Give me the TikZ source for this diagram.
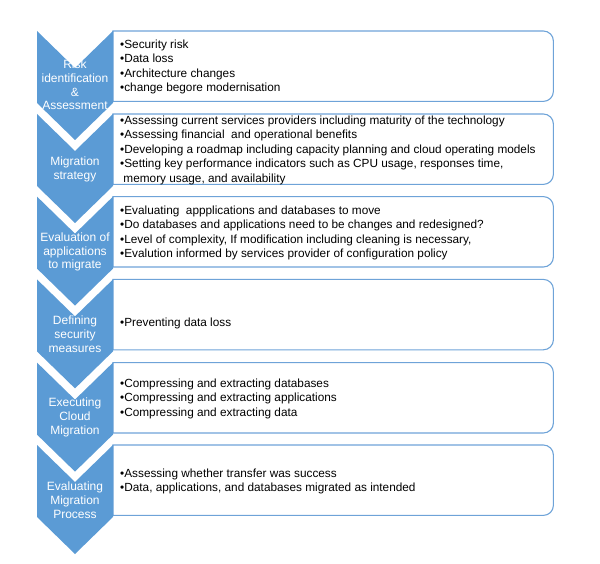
\documentclass[tikz,border=0pt]{standalone}
\usepackage{fontspec}
\setmainfont{Liberation Sans}
\definecolor{chevblue}{RGB}{91,155,213}
\definecolor{framblue}{RGB}{110,163,216}
\newcommand\mydrawframe[1]{%
  \draw[boxline] (#1.north west) -- ([xshift=-10pt]#1.north east)
    arc[start angle=90,end angle=0,radius=10pt]
    -- ([yshift=10pt]#1.south east)
    arc[start angle=0,end angle=-90,radius=10pt]
    -- (#1.south west) -- cycle;}
\newcommand\mydrawchevron[1]{%
  \fill[chevfill] (37,-#1) -- (75,-#1-37) -- (113,-#1) -- (113,-#1-72)
    -- (75,-#1-109) -- (37,-#1-72) -- cycle;}
\begin{document}
\begin{tikzpicture}[x=1pt,y=1pt,
  boxframe/.style={anchor=north west, minimum width=440pt, minimum height=70pt,
    inner sep=0pt, draw=none},
  boxtext/.style={anchor=west, inner xsep=7pt, inner ysep=0pt, yshift=-1pt,
    align=left, font=\fontsize{11.8}{14.5}\selectfont, text=black},
  boxline/.style={draw=framblue, line width=1.1pt},
  chevfill/.style={fill=chevblue},
  chevtext/.style={text=white, align=center, inner sep=0pt,
    font=\fontsize{12}{13.8}\selectfont}]
\useasboundingbox (0,0) rectangle (600,-564);
% frames
\node[boxframe] (f1) at (113,-31) {};
\node[boxframe] (f2) at (113,-114) {};
\node[boxframe] (f3) at (113,-196.6) {};
\node[boxframe] (f4) at (113,-279.4) {};
\node[boxframe] (f5) at (113,-362.6) {};
\node[boxframe] (f6) at (113,-445) {};
\mydrawframe{f1}\mydrawframe{f2}\mydrawframe{f3}\mydrawframe{f4}\mydrawframe{f5}\mydrawframe{f6}
% texts
\node[boxtext] (b1) at (f1.west) {•Security risk\\•Data loss\\•Architecture changes\\•change begore modernisation};
\node[boxtext] (b2) at (f2.west) {•Assessing current services providers including maturity of the technology\\•Assessing financial\ \ and operational benefits\\•Developing a roadmap including capacity planning and cloud operating models\\•Setting key performance indicators such as CPU usage, responses time,\\\ memory usage, and availability};
\node[boxtext] (b3) at (f3.west) {•Evaluating\ \ appplications and databases to move\\•Do databases and applications need to be changes and redesigned?\\•Level of complexity, If modification including cleaning is necessary,\\•Evalution informed by services provider of configuration policy};
\node[boxtext] (b4) at (f4.west) {\strut\\•Preventing data loss};
\node[boxtext] (b5) at (f5.west) {•Compressing and extracting databases\\•Compressing and extracting applications\\•Compressing and extracting data};
\node[boxtext] (b6) at (f6.west) {•Assessing whether transfer was success\\•Data, applications, and databases migrated as intended};
% chevrons
\mydrawchevron{31}\mydrawchevron{114}\mydrawchevron{196.6}
\mydrawchevron{279.4}\mydrawchevron{362.6}\mydrawchevron{445}
\node[chevtext] (c1) at (75,-85) {Risk\\identification\\\&\\Assessment};
\node[chevtext] (c2) at (75,-169.5) {Migration\\strategy};
\node[chevtext] (c3) at (75,-252) {Evaluation of\\applications\\to migrate};
\node[chevtext] (c4) at (75,-334.4) {Defining\\security\\measures};
\node[chevtext] (c5) at (75,-417.6) {Executing\\Cloud\\Migration};
\node[chevtext] (c6) at (75,-500) {Evaluating\\Migration\\Process};
\end{tikzpicture}
\end{document}
